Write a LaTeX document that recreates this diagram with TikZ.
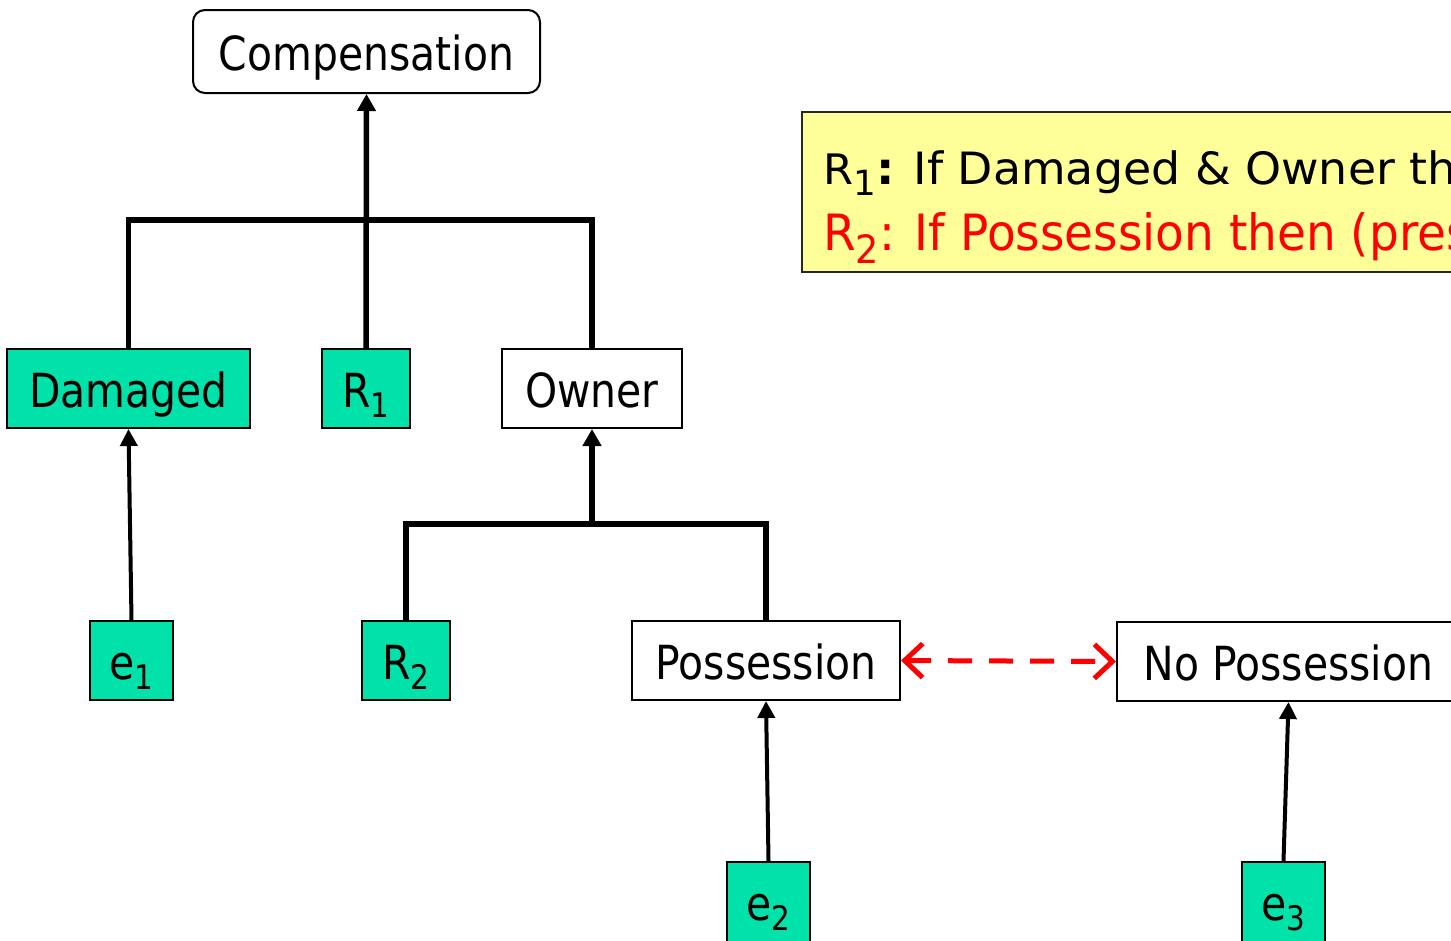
\documentclass[tikz,border=0pt]{standalone}
\usepackage{fontspec}
\setmainfont{DejaVu Sans}[FakeStretch=0.87]
\newfontfamily\rulefontA{DejaVu Sans}[FakeStretch=1.03]
\newfontfamily\rulefontB{DejaVu Sans}[FakeStretch=0.94]
\usetikzlibrary{arrows.meta}
\definecolor{evgreen}{RGB}{0,226,170}
\definecolor{rulebg}{RGB}{255,255,153}
% lowered, reduced index (R1, e2, ...)
\newcommand\lsub[1]{\raisebox{-0.22em}{\scalebox{0.72}{#1}}}
\newcommand\rsub[1]{\raisebox{-0.26em}{\scalebox{0.78}{#1}}}

\begin{document}
\begin{tikzpicture}[x=1pt,y=-1pt,
  box/.style={draw=black, line width=2pt, fill=white, inner sep=0pt,
    minimum height=79pt, text height=42pt, text depth=5pt,
    font=\fontsize{47}{56}\selectfont},
  evbox/.style={box, fill=evgreen},
  tree/.style={line width=5.5pt},
  uparrow/.style={line width=4pt, -{Triangle[length=17pt,width=17pt]}},
  conflict/.style={red, line width=5pt, dash pattern=on 24pt off 17pt,
    {Straight Barb[length=18pt,width=34pt]}-{Straight Barb[length=18pt,width=34pt]}},
  rulebox/.style={draw=black!85, line width=2pt, fill=rulebg, inner sep=0pt}
]
\useasboundingbox (0,0) rectangle (1451,940);
\clip (0,0) rectangle (1451,940);

% claims and grounds
\node[box, rounded corners=12pt, minimum width=347pt, minimum height=83pt] (comp) at (366.5,51.5) {Compensation};
\node[evbox, minimum width=243pt] (dam) at (128.5,388.5) {Damaged};
\node[evbox, minimum width=88pt]  (r1)  at (366,388.5) {R\lsub{1}};
\node[box,   minimum width=180pt] (own) at (592,388.5) {Owner};
\node[evbox, minimum width=83pt]  (e1)  at (131.5,660.5) {e\lsub{1}};
\node[evbox, minimum width=88pt]  (r2)  at (406,660.5) {R\lsub{2}};
\node[box,   minimum width=268pt] (pos) at (766,660.5) {Possession};
\node[box,   minimum width=343pt] (nopos) at (1288.5,661.5) {No Possession};
\node[evbox, minimum width=83pt, minimum height=80pt] (e2) at (768.5,902) {e\lsub{2}};
\node[evbox, minimum width=83pt, minimum height=80pt] (e3) at (1283.5,902) {e\lsub{3}};

% rule legend
\node[rulebox, anchor=north west, minimum width=900pt, minimum height=160pt] (rules) at (801,111) {};
\node[anchor=base west, inner sep=0pt] (rule1) at (823,184)
  {\rulefontA\fontsize{44.5}{50}\selectfont{\fontsize{42}{50}\selectfont R}\rsub{1}\textbf{:} If Damaged \& Owner then Compensation};
\node[anchor=base west, inner sep=0pt, text=red] (rule2) at (823,250)
  {\rulefontB\fontsize{50}{56}\selectfont R\rsub{2}: If Possession then (presumably) Owner};

% argument trees
\coordinate (j1) at (366,220);
\coordinate (j2) at (592,524);
\draw[tree] (dam.north) |- (j1) -| (own.north);
\draw[tree, -{Triangle[length=17pt,width=18pt]}] (r1.north) -- (comp.south);
\draw[tree] (r2.north) |- (j2) -| (pos.north);
\draw[tree, -{Triangle[length=17pt,width=18pt]}] (j2) -- (own.south);

% evidence support
\draw[uparrow] (e1.north) -- (dam.south);
\draw[uparrow] (e2.north) -- (pos.south);
\draw[uparrow] (e3.north) -- (nopos.south);

% conflict
\draw[conflict] (pos.east) -- (nopos.west);
\end{tikzpicture}
\end{document}
